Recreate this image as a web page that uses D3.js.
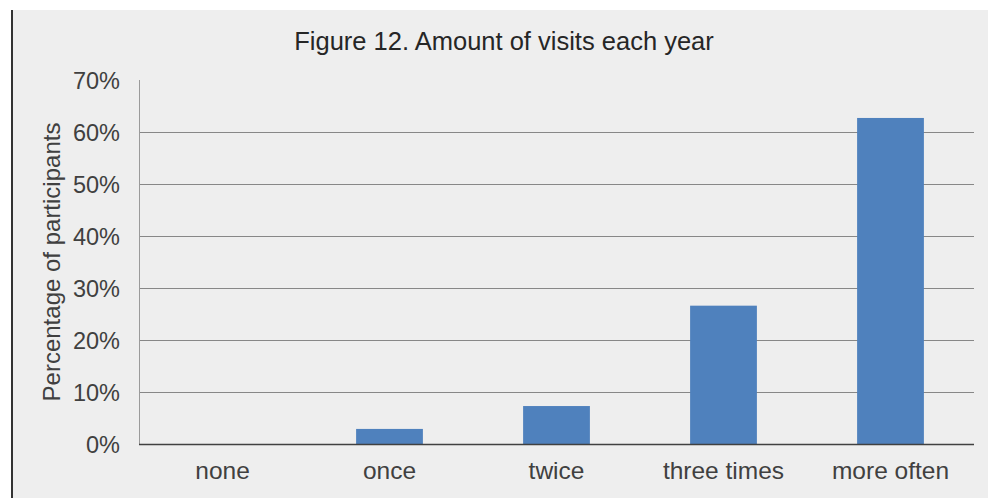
<!DOCTYPE html>
<html><head><meta charset="utf-8">
<script src="https://cdn.jsdelivr.net/npm/d3@7"></script>
<style>body{margin:0;background:#fff}svg{display:block}text{font-family:"Liberation Sans",Arial,sans-serif}</style>
</head><body><svg id="c" width="989" height="498"></svg>
<script>
const categories = ["none","once","twice","three times","more often"];
const values = [0, 2.9, 7.3, 26.6, 62.7];
const yTicks = [0,10,20,30,40,50,60,70];
const title = "Figure 12. Amount of visits each year";
const yTitle = "Percentage of participants";

const svg = d3.select("#c");
svg.append("rect").attr("x",11).attr("y",10).attr("width",977).attr("height",488).attr("fill","#eeeeee");
svg.append("line").attr("x1",12).attr("x2",12).attr("y1",10).attr("y2",498).attr("stroke","#333").attr("stroke-width",2);

const m = {left:139, right:974, top:80, bottom:444};
const x = d3.scaleBand().domain(categories).range([m.left,m.right]).paddingInner(0.6).paddingOuter(0.3);
const y = d3.scaleLinear().domain([0,70]).range([m.bottom,m.top]);

// gridlines
svg.append("g").selectAll("line").data(yTicks.filter(t=>t>0&&t<70)).join("line")
  .attr("x1",m.left).attr("x2",m.right).attr("y1",d=>y(d)+0.5).attr("y2",d=>y(d)+0.5)
  .attr("stroke","#878787").attr("stroke-width",1);

// bars
svg.append("g").selectAll("rect").data(values).join("rect")
  .attr("x",(d,i)=>x(categories[i])).attr("width",x.bandwidth())
  .attr("y",d=>y(d)).attr("height",d=>y(0)-y(d)).attr("fill","#4f81bd");

// y axis
const ya = svg.append("g").attr("transform",`translate(${m.left},0)`)
  .call(d3.axisLeft(y).tickValues(yTicks).tickSize(0).tickPadding(19).tickFormat(d=>d+"%"));
ya.select(".domain").attr("stroke","#9a9a9a").attr("d",`M0.5,${m.top}V${m.bottom}`);
ya.selectAll("text").attr("font-size",23.5).attr("fill","#404040").attr("font-family","Liberation Sans, Arial, sans-serif").attr("dy","0.35em");

// x axis
const xa = svg.append("g").attr("transform",`translate(0,${m.bottom})`)
  .call(d3.axisBottom(x).tickSize(0).tickPadding(20).tickSizeOuter(0));
xa.select(".domain").attr("stroke","#404040").attr("stroke-width",1.5).attr("d",`M${m.left},0.5H${m.right}`);
xa.selectAll("text").attr("font-size",24.5).attr("fill","#404040").attr("font-family","Liberation Sans, Arial, sans-serif").attr("dy","0.6em");

svg.append("text").attr("x",504).attr("y",50).attr("text-anchor","middle")
  .attr("font-size",25.5).attr("fill","#262626").text(title);
svg.append("text").attr("transform","translate(60,262) rotate(-90)").attr("text-anchor","middle")
  .attr("font-size",24).attr("fill","#404040").text(yTitle);
</script></body></html>
